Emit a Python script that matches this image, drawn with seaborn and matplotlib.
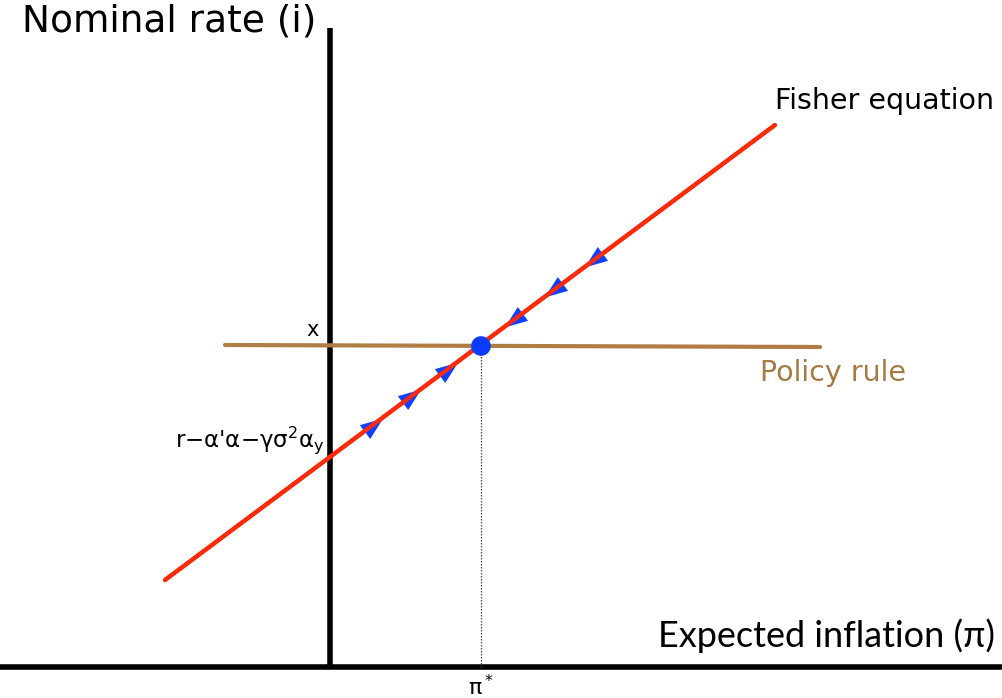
import numpy as np
import pandas as pd
import matplotlib.pyplot as plt
import seaborn as sns

sns.set_style("white")
plt.rcParams['font.family'] = ['DejaVu Sans']
plt.rcParams['text.color'] = 'black'

# diagram units: origin where the two axes cross
fisher_x = [-1.65, 4.45]
fisher_y = [0.87, 5.42]
policy_x = [-1.05, 4.90]
policy_y = [3.22, 3.20]
eq_x = [1.51]
eq_y = [3.21]
arrow_up_x = [2.65, 2.25, 1.85]      # above equilibrium, pointing back down
arrow_low_x = [1.17, 0.80, 0.42]     # below equilibrium, pointing back up
x_label = "x"
intercept_label = r"r$-$α'α$-$γσ$^2$α$_\mathregular{y}$"

slope = (fisher_y[1] - fisher_y[0]) / (fisher_x[1] - fisher_x[0])
intercept = fisher_y[0] - slope * fisher_x[0]
angle = np.degrees(np.arctan(slope))


def arrow_marker(deg):
    pts = np.array([[1.0, 0.0], [-0.7, 0.65], [-0.7, -0.65]])
    t = np.radians(deg)
    rot = np.array([[np.cos(t), -np.sin(t)], [np.sin(t), np.cos(t)]])
    return [tuple(p) for p in pts @ rot.T]


fig = plt.figure(figsize=(10.03, 6.98), dpi=100)
ax = fig.add_axes([0, 0, 1, 1])
ax.set_xlim(-3.30, 6.73)
ax.set_ylim(-0.31, 6.67)
ax.axis("off")

# axes of the diagram
ax.plot([-3.30, 6.73], [0, 0], color="black", lw=4, solid_capstyle="butt")
ax.plot([0, 0], [-0.02, 6.39], color="black", lw=4, solid_capstyle="butt")

fisher = pd.DataFrame({"pi": fisher_x, "i": fisher_y})
policy = pd.DataFrame({"pi": policy_x, "i": policy_y})
sns.lineplot(data=policy, x="pi", y="i", color="#b07d45", lw=3, ax=ax)
sns.lineplot(data=fisher, x="pi", y="i", color="#ff2a0a", lw=3, ax=ax)

ax.plot([eq_x[0], eq_x[0]], [0, eq_y[0]], color="#444444", lw=0.9, ls=(0, (1.2, 1.2)))

up_y = [intercept + slope * v for v in arrow_up_x]
low_y = [intercept + slope * v for v in arrow_low_x]
ax.scatter(arrow_up_x, up_y, marker=arrow_marker(angle + 180), s=330,
           color="#1040ff", zorder=2.5, linewidths=0)
ax.scatter(arrow_low_x, low_y, marker=arrow_marker(angle), s=330,
           color="#1040ff", zorder=2.5, linewidths=0)
# red line on top of the arrowheads, as in the original
sns.lineplot(data=fisher, x="pi", y="i", color="#ff2a0a", lw=3, ax=ax, zorder=3)
sns.scatterplot(x=eq_x, y=eq_y, color="#0a3cff", s=200, zorder=5, ax=ax,
                edgecolor="none")

ax.text(-3.08, 6.45, "Nominal rate (i)", fontsize=27, va="center", ha="left")
ax.text(6.65, 0.31, "Expected inflation (π)", fontsize=26, va="center", ha="right",
        family=["Lato", "DejaVu Sans"])
ax.text(4.45, 5.66, "Fisher equation", fontsize=20.5, va="center", ha="left")
ax.text(4.30, 2.94, "Policy rule", fontsize=20.5, va="center", ha="left", color="#a67a45")
ax.text(-0.17, 3.37, x_label, fontsize=15, va="center", ha="center")
ax.text(-1.55, 2.27, intercept_label, fontsize=16.5, va="center", ha="left")
ax.text(eq_x[0], -0.2, r"π$^*$", fontsize=16, va="center", ha="center")

fig.savefig("out.png", dpi=100)
